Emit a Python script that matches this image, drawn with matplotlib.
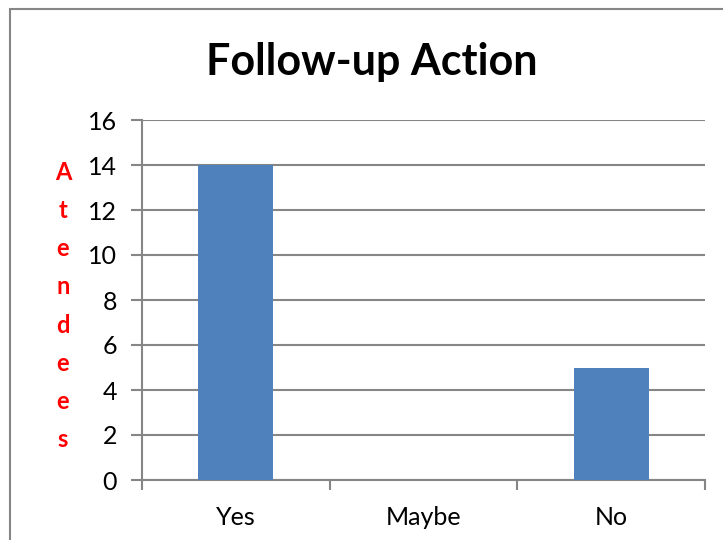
import matplotlib
matplotlib.use("Agg")
import matplotlib.pyplot as plt
from matplotlib.patches import Rectangle

categories = ["Yes", "Maybe", "No"]
values = [14, 0, 5]
yticks = [0, 2, 4, 6, 8, 10, 12, 14, 16]
title = "Follow-up Action"
ylabel = "Atendees"

plt.rcParams['font.family'] = ['Lato', 'DejaVu Sans']

W, H = 723, 540
fig = plt.figure(figsize=(W / 100, H / 100), dpi=100)
ax = fig.add_axes([142 / W, (H - 480) / H, (705 - 142) / W, 360 / H])

grey = "#868686"
x = list(range(len(categories)))
ax.bar(x, values, width=0.4, color="#4F81BD", zorder=3)

ax.set_xlim(-0.5, len(categories) - 0.5)
ax.set_ylim(0, 16)
ax.set_yticks(yticks)
ax.set_yticklabels([str(t) for t in yticks], fontsize=18)
ax.set_xticks(x)
ax.set_xticklabels(categories, fontsize=18)
ax.set_xticks([i - 0.5 for i in range(len(categories) + 1)], minor=True)
ax.tick_params(axis='x', which='major', length=0, pad=19)
ax.tick_params(axis='x', which='minor', length=7, width=1.5, color=grey, direction='out')
ax.tick_params(axis='y', length=8, width=1.5, color=grey, direction='out', pad=10)

ax.yaxis.grid(True, color=grey, linewidth=1.5, zorder=0)
ax.set_axisbelow(True)
for s in ['top', 'right']:
    ax.spines[s].set_visible(False)
for s in ['left', 'bottom']:
    ax.spines[s].set_color(grey)
    ax.spines[s].set_linewidth(1.5)

fig.text(372 / W, 1 - 62 / H, title, ha='center', va='center', fontsize=31, fontweight='bold')
fig.text(63 / W, 1 - 306 / H, "\n".join(ylabel), ha='center', va='center', fontsize=17,
         fontweight='bold', color='#FF0000', linespacing=1.8)

fig.patches.append(Rectangle((10 / W, -0.1), 1.2, 1.1 - 9 / H, transform=fig.transFigure,
                             fill=False, edgecolor=grey, linewidth=1.5))

fig.savefig("out.png", dpi=100)
